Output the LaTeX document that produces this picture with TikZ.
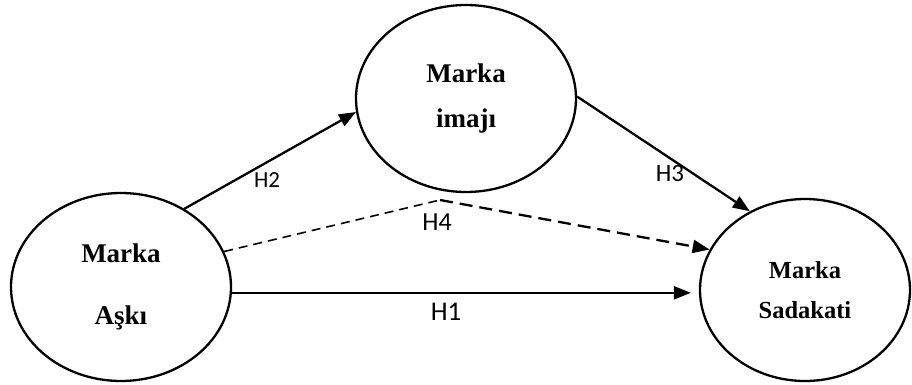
\documentclass[tikz,border=0pt]{standalone}
\usepackage{fontspec}
\setmainfont{Liberation Serif}
\newfontfamily\hfont{Carlito}
\usetikzlibrary{shapes.geometric}
\usetikzlibrary{arrows.meta}

\begin{document}
\begin{tikzpicture}[x=1pt,y=1pt,
		construct/.style={draw, ellipse, line width=2.3pt, align=center},
		hyp/.style={-{Triangle[length=17pt,width=13pt]}, line width=2.3pt},
		hlabel/.style={font=\hfont}]
			\useasboundingbox (0,0) rectangle (912,384);

			\node[construct, minimum width=220pt, minimum height=188pt, font=\bfseries\fontsize{27}{32}\selectfont] (ask) at (121,97) {Marka\\[30pt]Aşkı};
			\node[construct, minimum width=220pt, minimum height=187pt, font=\bfseries\fontsize{27}{32}\selectfont] (imaj) at (466,285.5) {Marka\\[13pt]imajı};
			\node[construct, minimum width=210pt, minimum height=182pt, font=\bfseries\fontsize{24.5}{29}\selectfont] (sad) at (805,94) {Marka\\[11pt]Sadakati};
			\coordinate (bend) at (440,184);

			\draw[hyp] (ask.51) -- (imaj.187);
			\draw[hyp] (imaj.1) -- (sad.125);
			\draw[line width=1.6pt, dash pattern=on 9pt off 6pt] (ask.19) -- (bend);
			\draw[hyp, dash pattern=on 13pt off 7pt] (bend) -- (sad.157);
			\draw[hyp, shorten >=8pt] (ask.-3) -- (ask.-3 -| sad.west);

			\node[hlabel, font=\hfont\fontsize{23}{27}\selectfont] (h2) at (267,204) {H2};
			\node[hlabel, font=\hfont\fontsize{25}{29}\selectfont] (h3) at (670,211) {H3};
			\node[hlabel, font=\hfont\fontsize{26}{31}\selectfont] (h4) at (437,162) {H4};
			\node[hlabel, font=\hfont\fontsize{27}{32}\selectfont] (h1) at (446,72) {H1};
		\end{tikzpicture}
\end{document}
